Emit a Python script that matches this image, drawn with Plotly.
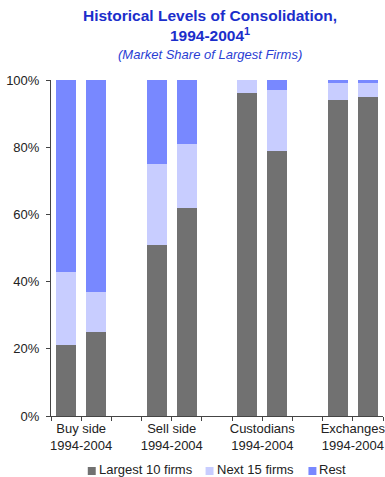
import plotly.graph_objects as go

groups = ["Buy side", "Sell side", "Custodians", "Exchanges"]
period_label = "1994-2004"
years = ["1994", "2004"]

# values in percent, order: Buy94, Buy04, Sell94, Sell04, Cust94, Cust04, Exch94, Exch04
largest10 = [21, 25, 51, 62, 96, 79, 94, 95]
next15 = [22, 12, 24, 19, 4, 18, 5, 4]
rest = [57, 63, 25, 19, 0, 3, 1, 1]

series_names = ["Largest 10 firms", "Next 15 firms", "Rest"]
series_values = [largest10, next15, rest]
series_colors = ["#717171", "#C8CDFF", "#7888FF"]

y_ticks = [0, 20, 40, 60, 80, 100]
y_tick_text = ["0%", "20%", "40%", "60%", "80%", "100%"]

# figure geometry (pixels)
W, H = 385, 477
ML, MR, MT, MB = 51, 0, 80, 61
PW, PH = W - ML - MR, H - MT - MB


def px_x(px):
    return (px - ML) / PW


def px_y(py):
    return (H - MB - py) / PH


# x positions: each group has two bars followed by an empty slot
xpos = [3 * gi + yi for gi in range(len(groups)) for yi in range(len(years))]
hover = [f"{g} {y}" for g in groups for y in years]

FONT = "Arial, 'Liberation Sans', sans-serif"
TEXT_COLOR = "#222222"

fig = go.Figure()
for name, vals, col in zip(series_names, series_values, series_colors):
    fig.add_trace(go.Bar(
        x=xpos, y=vals, name=name, marker=dict(color=col, line=dict(width=0)),
        width=0.66, hovertext=hover, showlegend=False,
    ))

n_slots = 3 * len(groups) - 1
label_vals = [3 * gi + 0.5 for gi in range(len(groups))]
label_text = [f"{g}<br>{period_label}" for g in groups]
boundary_vals = [k - 0.5 for k in range(n_slots + 1)]

annotations = [
    dict(
        text="<b>Historical Levels of Consolidation,<br>1994-2004<sup>1</sup></b>",
        xref="paper", yref="paper", x=px_x(211), y=px_y(5),
        xanchor="center", yanchor="top", showarrow=False,
        font=dict(family=FONT, size=15.5, color="#1B2ECB"),
    ),
    dict(
        text="<i>(Market Share of Largest Firms)</i>",
        xref="paper", yref="paper", x=px_x(211), y=px_y(54),
        xanchor="center", yanchor="middle", showarrow=False,
        font=dict(family=FONT, size=13, color="#2A3DD3"),
    ),
]

# legend (key squares + labels) placed below the axis
legend_square_px = [88, 206.5, 310]
legend_text_px = [98.5, 217, 320]
shapes = []
for name, col, sx, tx in zip(series_names, series_colors, legend_square_px, legend_text_px):
    shapes.append(dict(
        type="rect", xref="paper", yref="paper",
        x0=px_x(sx), x1=px_x(sx + 8), y0=px_y(475), y1=px_y(467),
        fillcolor=col, line=dict(width=0), layer="above",
    ))
    annotations.append(dict(
        text=name, xref="paper", yref="paper", x=px_x(tx), y=px_y(469.5),
        xanchor="left", yanchor="middle", showarrow=False, borderpad=0,
        font=dict(family=FONT, size=13, color=TEXT_COLOR),
    ))

fig.update_layout(
    width=W, height=H,
    margin=dict(l=ML, r=MR, t=MT, b=MB),
    paper_bgcolor="white", plot_bgcolor="white",
    barmode="stack",
    bargap=0,
    font=dict(family=FONT, size=13, color=TEXT_COLOR),
    annotations=annotations,
    shapes=shapes,
    showlegend=False,
    xaxis=dict(
        range=[-0.5, n_slots - 0.5],
        tickmode="array", tickvals=label_vals, ticktext=label_text,
        ticks="outside", ticklen=4, tickcolor="#444444",
        minor=dict(tickmode="array", tickvals=boundary_vals, ticks="outside",
                   ticklen=4, tickcolor="#444444", showgrid=False),
        showline=True, linecolor="#444444", linewidth=1,
        showgrid=False, zeroline=False,
        ticklabeloverflow="allow", ticklabelstandoff=-4,
        tickfont=dict(family=FONT, size=13, color=TEXT_COLOR),
        fixedrange=True,
    ),
    yaxis=dict(
        range=[0, 100],
        tickmode="array", tickvals=y_ticks, ticktext=y_tick_text,
        ticks="outside", ticklen=4, tickcolor="#444444",
        showline=True, linecolor="#444444", linewidth=1,
        showgrid=False, zeroline=False,
        ticklabelstandoff=4,
        tickfont=dict(family=FONT, size=13, color=TEXT_COLOR),
        fixedrange=True,
    ),
)

fig.write_html("out.html")
